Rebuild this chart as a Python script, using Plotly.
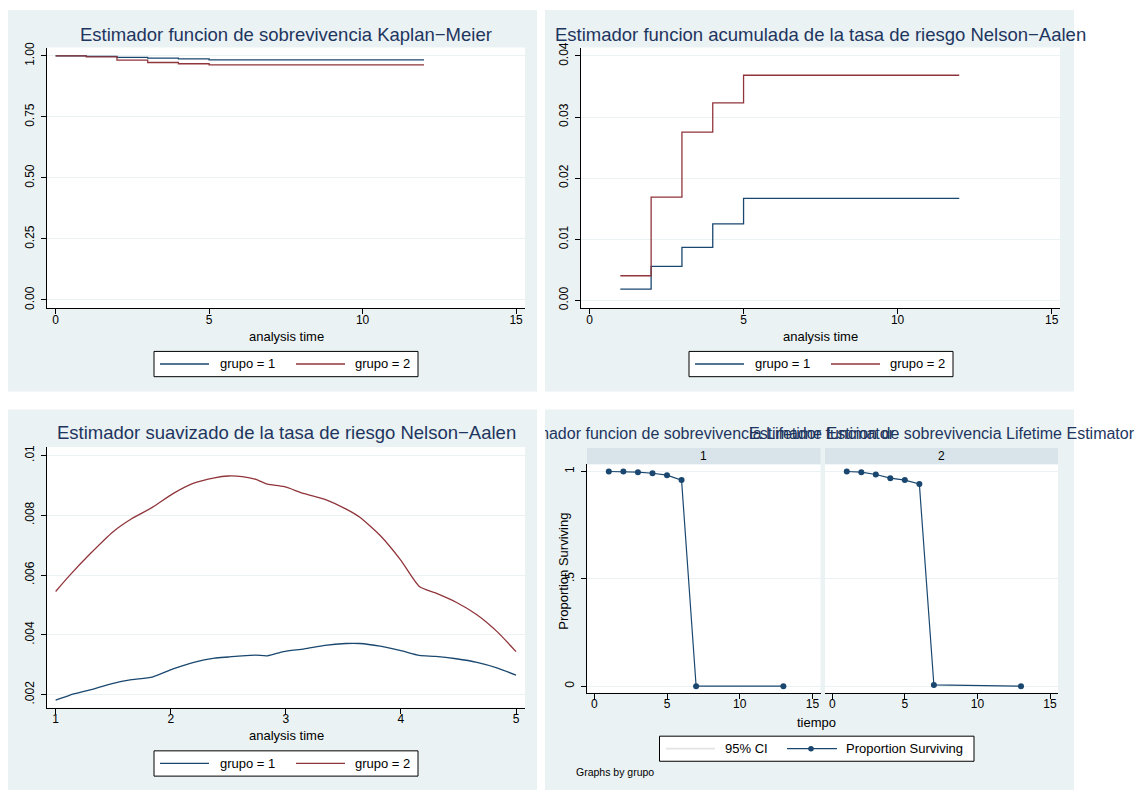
import plotly.graph_objects as go

W, H = 1138, 792

# Kaplan-Meier survival estimates by group
km_time = [0, 1, 2, 3, 4, 5, 12]
km_g1 = [1.0, 0.998, 0.9944, 0.9913, 0.9875, 0.9834, 0.9834]
km_g2 = [1.0, 0.996, 0.983, 0.973, 0.968, 0.9637, 0.9637]

# Nelson-Aalen cumulative hazard by group
na_time = [1, 2, 3, 4, 5, 12]
na_g1 = [0.00185, 0.00556, 0.00866, 0.01253, 0.01668, 0.01668]
na_g2 = [0.00403, 0.01689, 0.02752, 0.03232, 0.03684, 0.03684]

# Smoothed hazard estimates
haz_time = [1.0, 1.12, 1.3, 1.5, 1.66, 1.84, 2.02, 2.2, 2.38, 2.5, 2.62, 2.74, 2.84,
            2.98, 3.16, 3.34, 3.52, 3.64, 3.82, 4.0, 4.16, 4.3, 4.48, 4.66, 4.84, 5.0]
haz_g1 = [0.00182, 0.00198, 0.00216, 0.00238, 0.0025, 0.00259, 0.00286, 0.00308, 0.00322,
          0.00326, 0.0033, 0.00332, 0.0033, 0.00344, 0.00353, 0.00365, 0.00371, 0.00371,
          0.00362, 0.00347, 0.00331, 0.00328, 0.0032, 0.00308, 0.00289, 0.00265]
haz_g2 = [0.00545, 0.00598, 0.00671, 0.00745, 0.00788, 0.00826, 0.00872, 0.00907, 0.00925,
          0.00931, 0.00929, 0.0092, 0.00904, 0.00896, 0.00872, 0.00853, 0.00821, 0.00794,
          0.00732, 0.00649, 0.00562, 0.0054, 0.00509, 0.00467, 0.00409, 0.00344]

# Life-table proportion surviving
lt_time = [1, 2, 3, 4, 5, 6, 7, 13]
lt_g1 = [1.0, 1.0, 0.997, 0.992, 0.983, 0.960, 0.0, 0.0]
lt_g2 = [1.0, 0.997, 0.986, 0.969, 0.960, 0.942, 0.006, 0.0]

group_labels = ["grupo = 1", "grupo = 2"]
strip_labels = ["1", "2"]

NAVY = "#1a476f"
MAROON = "#90353b"
PANEL_BG = "#eaf2f3"
STRIP_BG = "#d8e4e9"
TITLE_C = "#1e3560"
FONT = "Liberation Sans, Arial, sans-serif"


def fx(px):
    return px / W


def fy(py):
    return 1 - py / H


fig = go.Figure()

# ---- traces ----
fig.add_trace(go.Scatter(x=km_time, y=km_g1, mode="lines", line=dict(color=NAVY, width=1.3, shape="hv"),
                         xaxis="x", yaxis="y"))
fig.add_trace(go.Scatter(x=km_time, y=km_g2, mode="lines", line=dict(color=MAROON, width=1.3, shape="hv"),
                         xaxis="x", yaxis="y"))
fig.add_trace(go.Scatter(x=na_time, y=na_g1, mode="lines", line=dict(color=NAVY, width=1.3, shape="hv"),
                         xaxis="x2", yaxis="y2"))
fig.add_trace(go.Scatter(x=na_time, y=na_g2, mode="lines", line=dict(color=MAROON, width=1.3, shape="hv"),
                         xaxis="x2", yaxis="y2"))
fig.add_trace(go.Scatter(x=haz_time, y=haz_g1, mode="lines",
                         line=dict(color=NAVY, width=1.3, shape="spline", smoothing=0.6),
                         xaxis="x3", yaxis="y3"))
fig.add_trace(go.Scatter(x=haz_time, y=haz_g2, mode="lines",
                         line=dict(color=MAROON, width=1.3, shape="spline", smoothing=0.6),
                         xaxis="x3", yaxis="y3"))
fig.add_trace(go.Scatter(x=lt_time, y=lt_g1, mode="lines+markers", line=dict(color=NAVY, width=1.2),
                         marker=dict(color=NAVY, size=6), xaxis="x4", yaxis="y4"))
fig.add_trace(go.Scatter(x=lt_time, y=lt_g2, mode="lines+markers", line=dict(color=NAVY, width=1.2),
                         marker=dict(color=NAVY, size=6), xaxis="x5", yaxis="y5"))

# Lifetime titles, one per by-panel, clipped to the panel region
lt_title = "Estimador funcion de sobrevivencia Lifetime Estimator"
fig.add_trace(go.Scatter(x=[701.5, 941.5], y=[0.5, 0.5], mode="text", text=[lt_title, lt_title],
                         textposition="middle center", cliponaxis=True,
                         textfont=dict(size=16, color=TITLE_C, family=FONT),
                         xaxis="x6", yaxis="y6", hoverinfo="skip"))


def xax(x0, x1, rng, tickvals, ticktext=None):
    return dict(domain=[fx(x0), fx(x1)], range=rng, tickvals=tickvals,
                ticktext=ticktext if ticktext else [str(v) for v in tickvals],
                ticks="outside", ticklen=5, tickwidth=1, tickcolor="#000",
                showline=True, linecolor="#000", linewidth=1, showgrid=False, zeroline=False,
                ticklabelstandoff=-5,
                tickfont=dict(size=12, color="#000", family=FONT), fixedrange=True)


def yax(y0, y1, rng, tickvals, ticktext, anchor, show=True):
    d = dict(domain=[fy(y1), fy(y0)], range=rng, tickvals=tickvals, ticktext=ticktext,
             tickangle=-90, showgrid=True, gridcolor=PANEL_BG, gridwidth=1, zeroline=False,
             tickfont=dict(size=12, color="#000", family=FONT), anchor=anchor, fixedrange=True)
    if show:
        d.update(ticks="outside", ticklen=5, tickwidth=1, tickcolor="#000",
                 showline=True, linecolor="#000", linewidth=1, ticklabelstandoff=2)
    else:
        d.update(ticks="", showline=False, showticklabels=False)
    return d


layout = dict(
    width=W, height=H, margin=dict(l=0, r=0, t=0, b=0),
    paper_bgcolor="white", plot_bgcolor="rgba(0,0,0,0)", showlegend=False,
    font=dict(family=FONT, color="#000"),
)

layout["xaxis"] = xax(47, 525, [-0.28, 15.29], [0, 5, 10, 15])
layout["xaxis"]["anchor"] = "y"
layout["yaxis"] = yax(43, 306, [-0.034, 1.034], [0, 0.25, 0.5, 0.75, 1.0],
                      ["0.00", "0.25", "0.50", "0.75", "1.00"], "x")

layout["xaxis2"] = xax(581, 1060, [-0.276, 15.27], [0, 5, 10, 15])
layout["xaxis2"]["anchor"] = "y2"
layout["yaxis2"] = yax(43, 306, [-0.0013, 0.04136], [0, 0.01, 0.02, 0.03, 0.04],
                       ["0.00", "0.01", "0.02", "0.03", "0.04"], "x2")

layout["xaxis3"] = xax(47, 525, [0.925, 5.078], [1, 2, 3, 4, 5])
layout["xaxis3"]["anchor"] = "y3"
layout["yaxis3"] = yax(446, 709, [0.001563, 0.010278], [0.002, 0.004, 0.006, 0.008, 0.01],
                       [".002", ".004", ".006", ".008", ".01"], "x3")

layout["xaxis4"] = xax(587, 820.5, [-0.5, 15.55], [0, 5, 10, 15])
layout["xaxis4"]["anchor"] = "y4"
layout["yaxis4"] = yax(463.3, 694, [-0.031, 1.034], [0, 0.5, 1], ["0", ".5", "1"], "x4")

layout["xaxis5"] = xax(825, 1058, [-0.5, 15.55], [0, 5, 10, 15])
layout["xaxis5"]["anchor"] = "y5"
layout["yaxis5"] = yax(463.3, 694, [-0.031, 1.034], [0, 0.5, 1], ["0", ".5", "1"], "x5", show=False)

layout["xaxis6"] = dict(domain=[fx(545), 1.0], range=[545, 1138], visible=False, fixedrange=True,
                        anchor="y6")
layout["yaxis6"] = dict(domain=[fy(448), fy(420)], range=[0, 1], visible=False, fixedrange=True,
                        anchor="x6")

fig.update_layout(**layout)

shapes = []


def rect(x0, y0, x1, y1, fill, line_color=None, lw=0):
    shapes.append(dict(type="rect", xref="paper", yref="paper", x0=fx(x0), x1=fx(x1), y0=fy(y1), y1=fy(y0),
                       fillcolor=fill, line=dict(color=line_color or fill, width=lw), layer="below"))


def hline(x0, x1, y, color, width=1.3):
    shapes.append(dict(type="line", xref="paper", yref="paper", x0=fx(x0), x1=fx(x1), y0=fy(y), y1=fy(y),
                       line=dict(color=color, width=width), layer="above"))


# panel backgrounds
rect(8, 5, 537, 390, PANEL_BG)
rect(545, 5, 1074, 390, PANEL_BG)
rect(8, 408, 537, 792, PANEL_BG)
rect(545, 408, 1074, 792, PANEL_BG)
# plot regions
rect(47, 43, 525, 306, "white")
rect(581, 43, 1060, 306, "white")
rect(47, 446, 525, 709, "white")
rect(587, 463.3, 820.5, 694, "white")
rect(825, 463.3, 1058, 694, "white")
# by-group strips
rect(587, 447, 820.5, 463.3, STRIP_BG)
rect(825, 447, 1058, 463.3, STRIP_BG)

annotations = []


def text(x, y, s, size, color="#000", angle=0, xanchor="center"):
    annotations.append(dict(x=fx(x), y=fy(y), xref="paper", yref="paper", text=s, showarrow=False,
                            xanchor=xanchor, yanchor="middle", textangle=angle,
                            font=dict(size=size, color=color, family=FONT)))


def group_legend(bx, by):
    # box 264 x 25 with two line keys
    rect(bx, by, bx + 264, by + 25.5, "white", "#000", 1)
    yc = by + 12.7
    hline(bx + 6, bx + 55, yc, NAVY)
    text(bx + 64, yc, group_labels[0], 13, xanchor="left")
    hline(bx + 142, bx + 191, yc, MAROON)
    text(bx + 199, yc, group_labels[1], 13, xanchor="left")


# panel titles
text(286, 29.6, "Estimador funcion de sobrevivencia Kaplan\u2212Meier", 18.5, TITLE_C)
text(820.5, 29.6, "Estimador funcion acumulada de la tasa de riesgo Nelson\u2212Aalen", 18.5, TITLE_C)
text(286, 431.5, "Estimador suavizado de la tasa de riesgo Nelson\u2212Aalen", 18.5, TITLE_C)

# axis titles
text(286, 334.5, "analysis time", 13)
text(820.5, 334.5, "analysis time", 13)
text(286, 737.5, "analysis time", 13)
text(816, 724, "tiempo", 13)
text(563.7, 571, "Proportion Surviving", 13, angle=-90)

# strip labels
text(703.7, 455, strip_labels[0], 12)
text(941.5, 455, strip_labels[1], 12)

# legends
group_legend(154, 349.5)
group_legend(689, 349.5)
group_legend(154, 752.5)

# life-table legend
rect(659.5, 737.7, 974, 763, "white", "#000", 1)
hline(666, 715, 750.3, "#e4e4e4", 1.6)
text(723, 750.3, "95% CI", 13, xanchor="left")
hline(787, 837, 750.3, NAVY, 1.2)
shapes.append(dict(type="circle", xref="paper", yref="paper", x0=fx(808.2), x1=fx(813.8),
                   y0=fy(753.1), y1=fy(747.5), fillcolor=NAVY, line=dict(color=NAVY, width=0),
                   layer="above"))
text(844, 750.3, "Proportion Surviving", 13, xanchor="left")
text(574, 773.7, "Graphs by grupo", 10.5, xanchor="left")

fig.update_layout(shapes=shapes, annotations=annotations)

fig.write_html("out.html")
